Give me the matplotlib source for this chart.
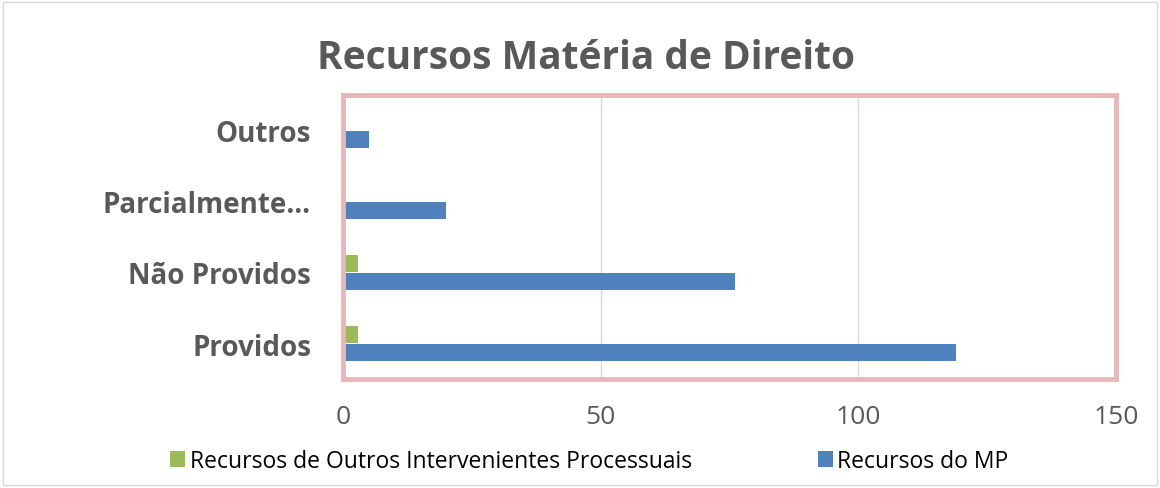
import matplotlib.pyplot as plt
import numpy as np
from matplotlib.patches import Rectangle

# Data
categories = ["Providos", "Não Providos", "Parcialmente…", "Outros"]
outros_intervenientes = [3, 3, 0, 0]
recursos_mp = [119, 76, 20, 5]
x_ticks = [0, 50, 100, 150]

green = "#9BBB59"
blue = "#4F81BD"
text_grey = "#595959"

plt.rcParams["font.family"] = ["Open Sans", "DejaVu Sans"]

fig = plt.figure(figsize=(11.6, 4.89), dpi=100)
ax = fig.add_axes([0.2957, 0.2229, 0.6664, 0.5808])

y = np.arange(len(categories))
h = 0.24
ax.barh(y - 0.125, recursos_mp, height=h, color=blue, label="Recursos do MP")
ax.barh(y + 0.125, outros_intervenientes, height=h, color=green,
        label="Recursos de Outros Intervenientes Processuais")
ax.set_ylim(-0.5, 3.5)

ax.set_xlim(0, 150)
ax.set_xticks(x_ticks)
ax.set_xticklabels([str(t) for t in x_ticks], fontsize=19, color=text_grey)
ax.set_yticks(y)
ax.set_yticklabels(categories, fontsize=20, fontweight="bold", color=text_grey)
ax.tick_params(axis="both", length=0)
ax.tick_params(axis="y", pad=23)
ax.tick_params(axis="x", pad=18)
ax.grid(axis="x", color="#D9D9D9", linewidth=1)
ax.set_axisbelow(True)
for s in ax.spines.values():
    s.set_color("#E6B8B7")
    s.set_linewidth(3.5)

fig.suptitle("Recursos Matéria de Direito", x=0.505, y=0.92, fontsize=28,
             fontweight="bold", color=text_grey)

handles, labels = ax.get_legend_handles_labels()
fig.legend(handles[::-1], labels[::-1], loc="center", ncol=2,
           bbox_to_anchor=(0.508, 0.055), frameon=False, fontsize=16.5,
           handlelength=0.65, handleheight=0.65, handletextpad=0.2,
           columnspacing=5.5)

fig.patches.append(Rectangle((0.003, 0.006), 0.994, 0.988, transform=fig.transFigure,
                             fill=False, edgecolor="#D9D9D9", linewidth=1))

fig.savefig("out.png", dpi=100)
